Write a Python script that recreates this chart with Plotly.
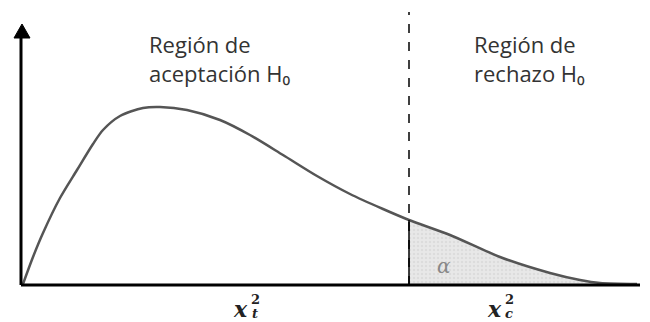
import plotly.graph_objects as go

# curve (x offset from origin, height above baseline)
curve_x = [0, 10, 20, 37, 54, 70, 80, 97, 120, 137, 164, 197, 227, 260, 294, 327, 360, 386, 427, 477, 527, 557, 577, 614]
curve_y = [1, 28, 52, 87, 115, 141, 155, 169, 177, 178, 175, 165, 150, 130, 109, 91, 76, 65, 50, 28, 12, 5, 2, 1]
critical_x = 386
labels_left = "Región de<br>aceptación H₀"
labels_right = "Región de<br>rechazo H₀"

fill_x = [x for x in curve_x if x >= critical_x]
fill_y = [y for x, y in zip(curve_x, curve_y) if x >= critical_x]
crit_h = curve_y[curve_x.index(critical_x)]

fig = go.Figure()
fig.add_trace(go.Scatter(
    x=fill_x, y=fill_y, mode="lines", line=dict(width=0, shape="spline", smoothing=0.8),
    fill="tozeroy", fillcolor="#e4e4e4",
    fillpattern=dict(shape=".", bgcolor="#e8e8e8", fgcolor="#cfcfcf", size=4, solidity=0.3),
    hoverinfo="skip", showlegend=False))
fig.add_trace(go.Scatter(
    x=curve_x, y=curve_y, mode="lines",
    line=dict(color="#555555", width=2.5, shape="spline", smoothing=0.8),
    hoverinfo="skip", showlegend=False))

shapes = [
    dict(type="line", x0=critical_x, x1=critical_x, y0=0, y1=273,
         line=dict(color="black", width=1.5, dash="dash")),
    dict(type="line", x0=critical_x, x1=critical_x, y0=0, y1=crit_h,
         line=dict(color="black", width=1.5)),
    dict(type="line", x0=-2, x1=-2, y0=0, y1=248, line=dict(color="black", width=3)),
    dict(type="path", path="M -9,247 L 7,247 L -1,261 Z", fillcolor="black",
         line=dict(color="black", width=1)),
    dict(type="line", x0=-2, x1=617, y0=0, y1=0, line=dict(color="black", width=3)),
]

font_txt = dict(family="Open Sans", size=22, color="#333333")
ann = [
    dict(x=124, y=258, text=labels_left, xanchor="left", yanchor="top", align="left",
         showarrow=False, font=font_txt),
    dict(x=449, y=258, text=labels_right, xanchor="left", yanchor="top", align="left",
         showarrow=False, font=font_txt),
    dict(x=421, y=19, text="<i>α</i>", showarrow=False,
         font=dict(family="DejaVu Serif", size=20, color="#888888")),
]
mf = dict(family="DejaVu Serif", size=22, color="#222222")
sf = dict(family="DejaVu Serif", size=13, color="#222222")
for (xx, sub) in [(217, "t"), (471, "c")]:
    ann.append(dict(x=xx, y=-24, text="<b><i>x</i></b>", showarrow=False, font=mf))
    ann.append(dict(x=xx + 15, y=-14, text="<b>2</b>", showarrow=False, font=sf))
    ann.append(dict(x=xx + 15, y=-28, text="<b><i>" + sub + "</i></b>", showarrow=False, font=sf))

fig.update_layout(
    width=650, height=322, margin=dict(l=0, r=0, t=0, b=0),
    paper_bgcolor="white", plot_bgcolor="white",
    xaxis=dict(range=[-23, 627], visible=False, fixedrange=True),
    yaxis=dict(range=[-37, 285], visible=False, fixedrange=True),
    shapes=shapes, annotations=ann, showlegend=False)

fig.write_html("out.html", config={"displayModeBar": False},
               post_script="document.body.style.margin='0';document.body.style.overflow='hidden';")
